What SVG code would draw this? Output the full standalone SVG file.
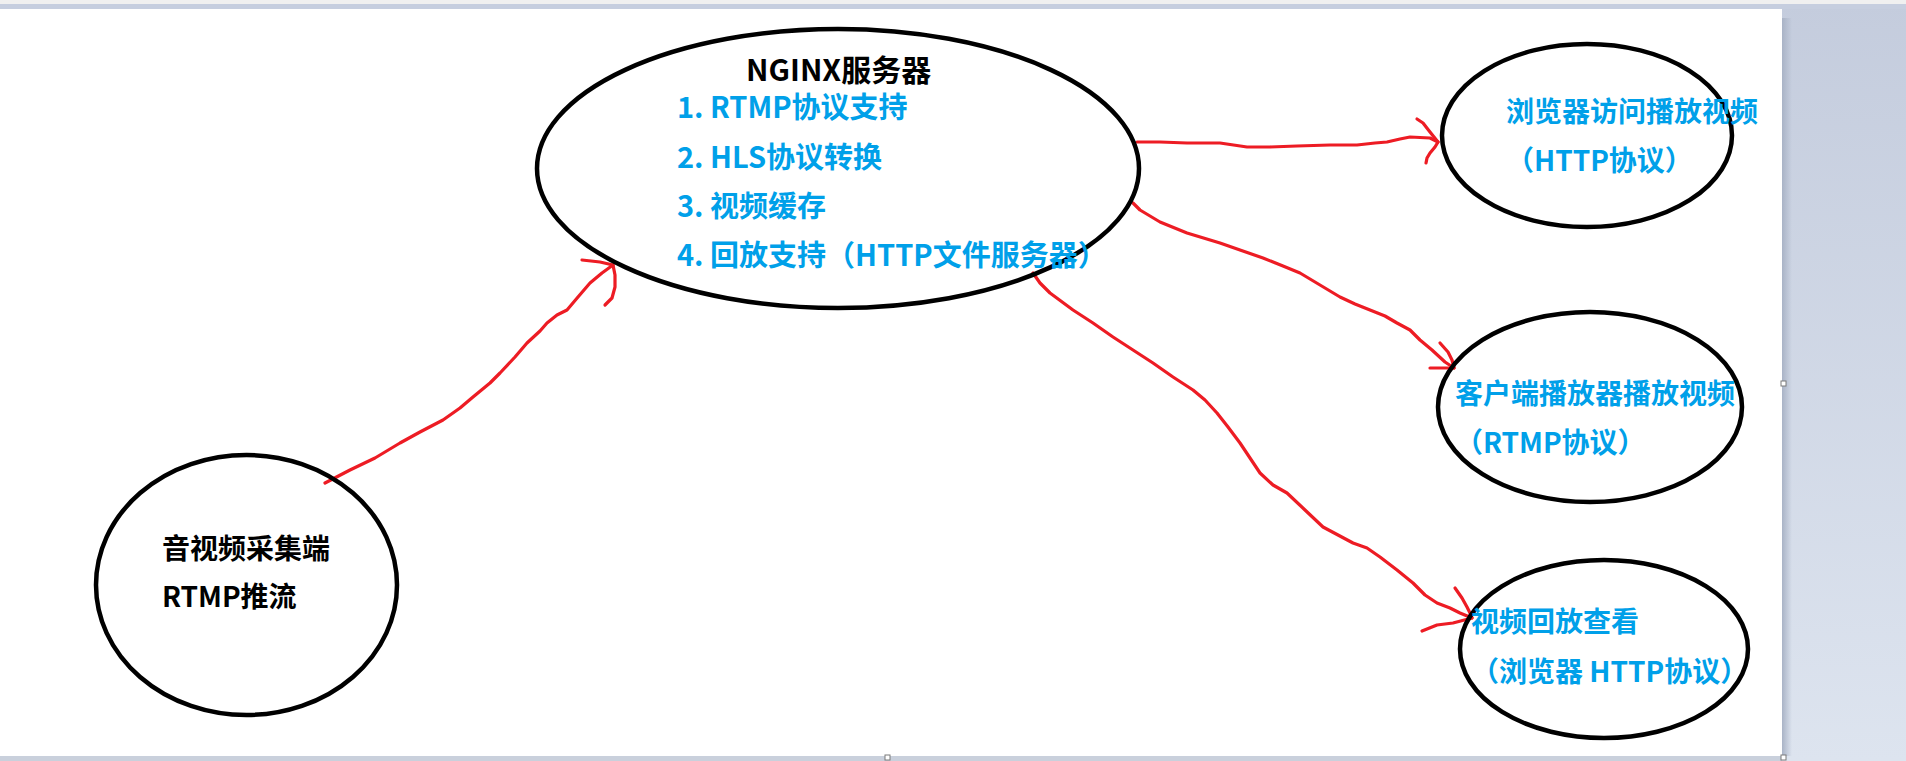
<svg xmlns="http://www.w3.org/2000/svg" width="1906" height="761" viewBox="0 0 1906 761">
  <defs>
    <linearGradient id="side" x1="0" y1="0" x2="0" y2="1">
      <stop offset="0" stop-color="#c4ccdd"/>
      <stop offset="1" stop-color="#dde4ef"/>
    </linearGradient>
    <linearGradient id="shadow" x1="0" y1="0" x2="1" y2="0">
      <stop offset="0" stop-color="#a9b3c6"/>
      <stop offset="1" stop-color="#a9b3c6" stop-opacity="0"/>
    </linearGradient>
    <style>
      .node { fill: none; stroke: #000000; stroke-width: 4.5; }
      .arrow { fill: none; stroke: #ed1c24; stroke-width: 3.2; stroke-linecap: round; stroke-linejoin: round; }
      .t { font-family: "Noto Sans CJK SC", "Noto Sans", sans-serif; font-weight: 700; }
      .blue { fill: #00a0e9; }
      .black { fill: #000000; }
      .handle { fill: #ffffff; stroke: #7a7a7a; stroke-width: 1; }
    </style>
  </defs>

  <!-- background / page -->
  <rect x="0" y="0" width="1906" height="761" fill="url(#side)"/>
  <rect x="0" y="0" width="1906" height="4" fill="#f0f0f0"/>
  <rect x="0" y="4" width="1906" height="5" fill="#c6cedf"/>
  <rect x="0" y="9" width="1782" height="747" fill="#ffffff"/>
  <rect x="1782" y="18" width="10" height="738" fill="url(#shadow)"/>
  <rect x="0" y="756" width="1782" height="5" fill="#c9d0dc"/>
  <rect x="1781" y="381" width="5" height="5" class="handle"/>
  <rect x="1781" y="755" width="5" height="5" class="handle"/>
  <rect x="885" y="755" width="5" height="5" class="handle"/>

  <g id="connectors">
    <!-- source -> nginx -->
    <path class="arrow" d="M325,483 L350,470 L375,458 L400,443 L420,432 L443,420 L460,408 L473,397 L490,383 L500,373 L515,357 L527,343 L540,331 L547,323 L557,315 L567,310 L578,297 L590,283 L602,273 L613,265"/>
    <path class="arrow" d="M582,260 L600,262 L613,265 L615,275 L615,287 L612,298 L605,305"/>
    <!-- nginx -> browser -->
    <path class="arrow" d="M1137,142 L1160,142 L1187,143 L1220,143 L1247,147 L1270,147 L1297,146 L1330,145 L1357,145 L1375,143 L1387,142 L1400,139 L1410,137 L1430,138 L1438,142"/>
    <path class="arrow" d="M1417,119 L1423,123 L1430,132 L1438,142 L1435,147 L1430,153 L1427,158 L1426,163"/>
    <!-- nginx -> client -->
    <path class="arrow" d="M1133,203 L1140,210 L1160,222 L1187,233 L1220,243 L1240,250 L1263,258 L1283,266 L1300,273 L1320,285 L1340,297 L1355,304 L1370,310 L1385,316 L1397,323 L1410,330 L1420,340 L1432,350 L1445,362 L1454,368"/>
    <path class="arrow" d="M1440,343 L1448,352 L1452,360 L1454,368 L1430,368"/>
    <!-- nginx -> playback -->
    <path class="arrow" d="M1033,273 L1040,283 L1050,293 L1073,310 L1093,323 L1113,337 L1133,350 L1153,363 L1173,377 L1193,390 L1205,400 L1217,413 L1228,427 L1240,443 L1250,458 L1260,473 L1273,485 L1287,493 L1305,510 L1323,527 L1338,535 L1353,543 L1367,548 L1380,557 L1397,570 L1413,583 L1425,595 L1437,603 L1450,608 L1460,613 L1472,618"/>
    <path class="arrow" d="M1422,631 L1437,625 L1453,623 L1472,618 L1471,615 L1467,607 L1462,598 L1455,588"/>
  </g>

  <g id="node-nginx">
    <ellipse class="node" cx="838" cy="168.5" rx="301" ry="139.5"/>
    <text class="t black" x="746" y="81" font-size="30">NGINX服务器</text>
    <text class="t blue" x="677" y="118" font-size="29">1. RTMP协议支持</text>
    <text class="t blue" x="677" y="168" font-size="29">2. HLS协议转换</text>
    <text class="t blue" x="677" y="217" font-size="29">3. 视频缓存</text>
    <text class="t blue" x="677" y="266" font-size="29">4. 回放支持（HTTP文件服务器）</text>
  </g>

  <g id="node-source">
    <ellipse class="node" cx="246.5" cy="585" rx="150.5" ry="130"/>
    <text class="t black" x="162" y="559" font-size="28">音视频采集端</text>
    <text class="t black" x="162" y="607" font-size="28">RTMP推流</text>
  </g>

  <g id="node-browser">
    <ellipse class="node" cx="1587" cy="135.5" rx="145" ry="91.5"/>
    <text class="t blue" x="1506" y="122" font-size="28">浏览器访问播放视频</text>
    <text class="t blue" x="1506" y="171" font-size="28">（HTTP协议）</text>
  </g>

  <g id="node-client">
    <ellipse class="node" cx="1590" cy="407" rx="152" ry="95"/>
    <text class="t blue" x="1455" y="404" font-size="28">客户端播放器播放视频</text>
    <text class="t blue" x="1455" y="453" font-size="28">（RTMP协议）</text>
  </g>

  <g id="node-playback">
    <ellipse class="node" cx="1604" cy="649" rx="144" ry="89"/>
    <text class="t blue" x="1471" y="632" font-size="28">视频回放查看</text>
    <text class="t blue" x="1471" y="682" font-size="28">（浏览器 HTTP协议）</text>
  </g>
</svg>
